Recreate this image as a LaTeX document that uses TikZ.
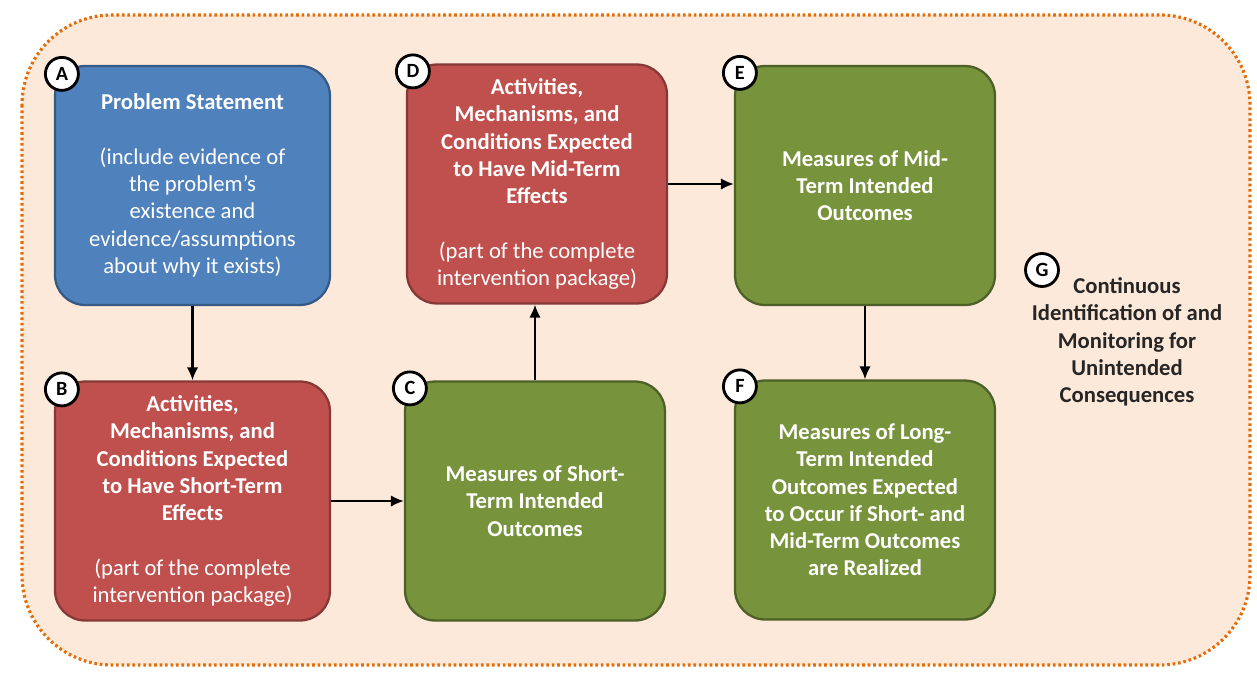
\documentclass[tikz,border=0pt]{standalone}
\usepackage{fontspec}
\setmainfont{Carlito}
\usetikzlibrary{arrows.meta,positioning}

\definecolor{peach}{HTML}{FDE9D9}
\definecolor{dotorange}{HTML}{E46C0A}
\definecolor{probblue}{HTML}{4F81BD}
\definecolor{actred}{HTML}{C0504D}
\definecolor{measgreen}{HTML}{77933C}
\definecolor{gtext}{HTML}{262626}

\begin{document}
\begin{tikzpicture}[
    x=0.02cm, y=-0.02cm,
    font=\bfseries\fontsize{12.9}{15.5}\selectfont,
    >=Latex,
    box/.style={draw, line width=1.3pt, rounded corners=0.6cm, align=center, text=white, minimum width=5.2cm, minimum height=4.78cm, inner sep=2pt},
    problem/.style={box, fill=probblue, draw=probblue!70!black, minimum width=5.5cm},
    activity/.style={box, fill=actred, draw=actred!70!black},
    measure/.style={box, fill=measgreen, draw=measgreen!65!black},
    tag/.style={circle, draw, fill=white, line width=1.6pt, minimum size=0.66cm, inner sep=0pt, font=\bfseries\fontsize{11.5}{12}\selectfont},
    arrow/.style={-{Latex[length=2.6mm,width=2.3mm]}, line width=1.3pt}
]
\useasboundingbox (0,0) rectangle (1257,673);
\draw[fill=peach, draw=dotorange, line width=1.8pt, dash pattern=on 1.5pt off 1.6pt, rounded corners=1.8cm] (22,15) rectangle (1250,665);

\node[problem] (A) at (192.5,185.5) {Problem Statement\\[15.5pt]\mdseries (include evidence of\\\mdseries the problem’s\\\mdseries existence and\\\mdseries evidence/assumptions\\\mdseries about why it exists)};
\node[problem, fill=actred, draw=actred!70!black] (B) at (192.5,501) {Activities,\\Mechanisms, and\\Conditions Expected\\to Have Short-Term\\Effects\\[15.5pt]\mdseries (part of the complete\\\mdseries intervention package)};
\node[measure] (C) at (535,501) {Measures of Short-\\Term Intended\\Outcomes};
\node[activity] (D) at (537,184) {Activities,\\Mechanisms, and\\Conditions Expected\\to Have Mid-Term\\Effects\\[15.5pt]\mdseries (part of the complete\\\mdseries intervention package)};
\node[measure] (E) at (865,185.5) {Measures of Mid-\\Term Intended\\Outcomes};
\node[measure] (F) at (865,500) {Measures of Long-\\Term Intended\\Outcomes Expected\\to Occur if Short- and\\Mid-Term Outcomes\\are Realized};

\node[tag] (tagA) at ([shift={(8,9)}]A.north west) {A};
\node[tag] (tagB) at ([shift={(8,9)}]B.north west) {B};
\node[tag] (tagC) at ([shift={(6,8)}]C.north west) {C};
\node[tag] (tagD) at ([shift={(7,8)}]D.north west) {D};
\node[tag] (tagE) at ([shift={(6,8)}]E.north west) {E};
\node[tag] (tagF) at ([shift={(6,7)}]F.north west) {F};

\node[tag] (tagG) at (1042,270) {G};
\node[align=center, text=gtext] (G) at (1127,342) {Continuous\\Identification of and\\Monitoring for\\Unintended\\Consequences};

\draw[arrow] (A.south) -- (B.north);
\draw[arrow] (B.east) -- (C.west);
\draw[arrow] (C.north) -- (C.north |- D.south);
\draw[arrow] (D.east) -- (D.east -| E.west);
\draw[arrow] (E.south) -- (F.north);
\end{tikzpicture}
\end{document}
